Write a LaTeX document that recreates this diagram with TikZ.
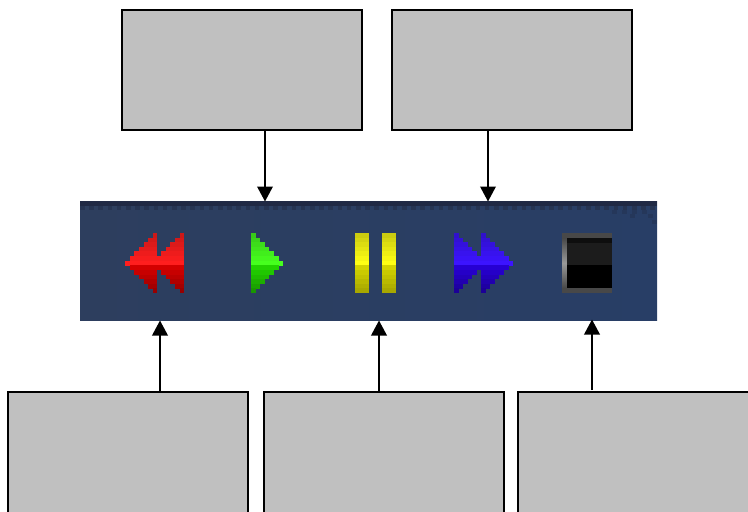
\documentclass[tikz,border=0pt]{standalone}
\usepackage{xcolor}
\definecolor{boxgray}{RGB}{192,192,192}
\definecolor{panelleft}{RGB}{45,62,94}
\definecolor{panelright}{RGB}{40,62,102}
\definecolor{paneltop}{RGB}{32,41,68}
\definecolor{paneldither}{RGB}{38,52,82}
\definecolor{redhi}{RGB}{255,30,30}
\definecolor{redlo}{RGB}{215,0,0}
\definecolor{greenhi}{RGB}{70,255,30}
\definecolor{greenlo}{RGB}{35,215,0}
\definecolor{bluehi}{RGB}{60,20,255}
\definecolor{bluelo}{RGB}{40,0,215}
\definecolor{yellowhi}{RGB}{255,255,20}
\definecolor{yellowlo}{RGB}{215,215,0}
\definecolor{stopedge}{RGB}{72,72,72}
\definecolor{stopmid}{RGB}{28,28,28}
\definecolor{stoptop}{RGB}{14,14,14}
\usetikzlibrary{arrows.meta}
\tikzset{
  grayblock/.style={draw=black, line width=2pt, fill=boxgray, minimum width=240pt, minimum height=120pt, inner sep=0pt, anchor=north west},
  tallblock/.style={grayblock, minimum height=140pt},
  pointer/.style={draw=black, line width=2pt, -{Triangle[length=15pt,width=15.5pt]}, shorten >=-0.5pt},
}
% stepped triangle: tip side x, direction, top colour, low colour
\newcommand{\stepicon}[4]{
  \foreach \r in {0,...,12} {
    \pgfmathsetmacro{\cols}{7-abs(\r-6)}
    \pgfmathsetmacro{\pct}{\r<7 ? 80+\r*20/6 : 98-(\r-7)*5.5}
    \pgfmathsetmacro{\yy}{233+\r*4.615}
    \ifnum\r<7 \colorlet{rowcol}{#3!\pct!black}\else \colorlet{rowcol}{#4!\pct!black}\fi
    \fill[rowcol] (#1,\yy) rectangle ({#1+#2*\cols*4.6},\yy+4.9);
  }
}
% pause bar
\newcommand{\barcon}[1]{
  \foreach \r in {0,...,12} {
    \pgfmathsetmacro{\pct}{\r<7 ? 80+\r*20/6 : 98-(\r-7)*4}
    \pgfmathsetmacro{\yy}{233+\r*4.615}
    \ifnum\r<7 \colorlet{rowcol}{yellowhi!\pct!black}\else \colorlet{rowcol}{yellowlo!\pct!black}\fi
    \fill[rowcol] (#1,\yy) rectangle (#1+14,{min(\yy+4.9,293)});
  }
}
\begin{document}
\begin{tikzpicture}[x=1pt,y=-1pt]
  \useasboundingbox (0,0) rectangle (748,512);
  \clip (0,0) rectangle (748,512);
  % Panel
  \node[inner sep=0pt, minimum width=577pt, minimum height=119.6pt, anchor=north west, left color=panelleft, right color=panelright] (panel) at (80,201) {};
  \fill[paneltop] (panel.north west) rectangle (657,206);
  \foreach \x in {0,...,62} {
    \fill[paneldither] (80+\x*9.2,206) rectangle (84.6+\x*9.2,210);
  }
  \foreach \x/\y in {612/210,622/210,632/210,642/210,648/214,630/214,652/220} {
    \fill[paneltop!35!panelright] (\x,\y) rectangle (\x+5,\y+4);
  }
  % Rewind
  \stepicon{184.2}{-1}{redhi}{redlo}
  \stepicon{157.3}{-1}{redhi}{redlo}
  % Play
  \stepicon{251}{1}{greenhi}{greenlo}
  % Pause
  \barcon{355}
  \barcon{382}
  % Forward
  \stepicon{454}{1}{bluehi}{bluelo}
  \stepicon{481}{1}{bluehi}{bluelo}
  % Stop
  \fill[stopedge] (562,233) rectangle (612,293);
  \shade[top color=stopedge, bottom color=stopedge, middle color=gray!80] (562,238) rectangle (567,288);
  \fill[stopmid] (567,238) rectangle (612,265);
  \fill[stoptop] (567,238) rectangle (612,243);
  \fill[black] (567,265) rectangle (612,288);
  % Boxes
  \node[grayblock] (rewindtop) at (121,9) {};
  \node[grayblock] (fwdtop) at (391,9) {};
  \node[tallblock] (rewindbox) at (7,391) {};
  \node[tallblock] (pausebox) at (262.5,391) {};
  \node[tallblock] (stopbox) at (517,391) {};
  % Arrow ends on the panel
  \coordinate (playin) at (265,201);
  \coordinate (fwdin) at (488,201);
  \coordinate (rewindin) at (160,321);
  \coordinate (pausein) at (379,321);
  \coordinate (stopin) at (592,320);
  \coordinate (stopfoot) at (592,390);
  \draw[pointer] (rewindtop.south -| playin) -- (playin);
  \draw[pointer] (fwdtop.south -| fwdin) -- (fwdin);
  \draw[pointer] (rewindbox.north -| rewindin) -- (rewindin);
  \draw[pointer] (pausebox.north -| pausein) -- (pausein);
  \draw[pointer] (stopfoot) -- (stopin);
\end{tikzpicture}
\end{document}
